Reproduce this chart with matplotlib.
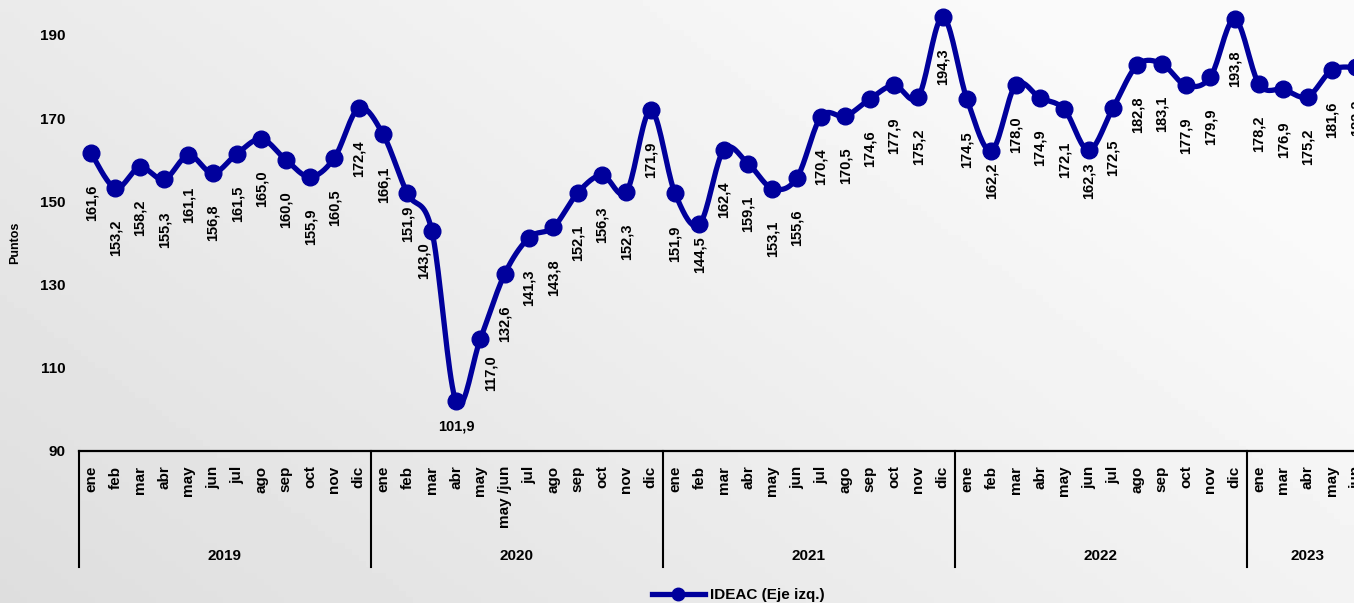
import numpy as np
import matplotlib
matplotlib.use("Agg")
import matplotlib.pyplot as plt
from matplotlib.lines import Line2D
from matplotlib.transforms import blended_transform_factory

plt.rcParams['font.family'] = ['Liberation Sans', 'DejaVu Sans']
plt.rcParams['font.weight'] = 'bold'

# datos
meses = ['ene', 'feb', 'mar', 'abr', 'may', 'jun', 'jul', 'ago', 'sep', 'oct', 'nov', 'dic']
meses_2020 = ['ene', 'feb', 'mar', 'abr', 'may', 'may /jun', 'jul', 'ago', 'sep', 'oct', 'nov', 'dic']
meses_2023 = ['ene', 'mar', 'abr', 'may', 'jun']
etiquetas_mes = meses + meses_2020 + meses + meses + meses_2023

anios = ['2019', '2020', '2021', '2022', '2023']
meses_por_anio = [12, 12, 12, 12, 5]

ideac_2019 = [161.6, 153.2, 158.2, 155.3, 161.1, 156.8, 161.5, 165.0, 160.0, 155.9, 160.5, 172.4]
ideac_2020 = [166.1, 151.9, 143.0, 101.9, 117.0, 132.6, 141.3, 143.8, 152.1, 156.3, 152.3, 171.9]
ideac_2021 = [151.9, 144.5, 162.4, 159.1, 153.1, 155.6, 170.4, 170.5, 174.6, 177.9, 175.2, 194.3]
ideac_2022 = [174.5, 162.2, 178.0, 174.9, 172.1, 162.3, 172.5, 182.8, 183.1, 177.9, 179.9, 193.8]
ideac_2023 = [178.2, 176.9, 175.2, 181.6, 182.2]
ideac = np.array(ideac_2019 + ideac_2020 + ideac_2021 + ideac_2022 + ideac_2023)

azul = '#00009C'


def curva_suave(x, y, n=20):
    # bezier tipo Excel (catmull-rom)
    xs, ys = [], []
    px = np.concatenate([[x[0]], x, [x[-1]]])
    py = np.concatenate([[y[0]], y, [y[-1]]])
    t = np.linspace(0, 1, n)
    for i in range(1, len(px) - 2):
        p0 = np.array([px[i], py[i]])
        p3 = np.array([px[i + 1], py[i + 1]])
        c1 = p0 + (p3 - np.array([px[i - 1], py[i - 1]])) / 6
        c2 = p3 - (np.array([px[i + 2], py[i + 2]]) - p0) / 6
        b = ((1 - t) ** 3)[:, None] * p0 + (3 * (1 - t) ** 2 * t)[:, None] * c1 \
            + (3 * (1 - t) * t ** 2)[:, None] * c2 + (t ** 3)[:, None] * p3
        xs.extend(b[:, 0])
        ys.extend(b[:, 1])
    return np.array(xs), np.array(ys)


fig = plt.figure(figsize=(13.54, 6.03), dpi=100)

# fondo degradado claro
bg = fig.add_axes([0, 0, 1, 1], zorder=-10)
gx, gy = np.meshgrid(np.linspace(0, 1, 200), np.linspace(0, 1, 100))
grad = np.clip(0.75 * gx + 0.45 * gy, 0, 1)
bg.imshow(grad, cmap='gray', vmin=-8.0, vmax=1.2, aspect='auto', origin='lower',
          extent=[0, 1, 0, 1])
bg.axis('off')

ax = fig.add_axes([79 / 1354, 152 / 603, 1289.5 / 1354, 457.6 / 603])
ax.patch.set_alpha(0)
x = np.arange(len(ideac))
ax.set_xlim(-0.5, len(ideac) - 0.5)
ax.set_ylim(90, 200)

xs, ys = curva_suave(x, ideac)
ax.plot(xs, ys, color=azul, lw=3.8, solid_capstyle='round', zorder=3)
ax.plot(x, ideac, 'o', color=azul, ms=12, zorder=4)

# etiquetas de datos
cercanas = {13, 14, 25, 37, 41}
for i, v in enumerate(ideac):
    txt = f'{v:.1f}'.replace('.', ',')
    if i == 15:
        ax.annotate(txt, (i, v), xytext=(0, -18), textcoords='offset points',
                    ha='center', va='center', fontsize=10.5, fontweight='bold')
        continue
    dx, dy = 0, -36
    if i in cercanas:
        dy = -22
    if i == 14:
        dx = -6
    if i == 16:
        dx, dy = 7, -24.5
    ax.annotate(txt, (i, v), xytext=(dx, dy), textcoords='offset points',
                ha='center', va='center', rotation=90, fontsize=10.5, fontweight='bold')

ax.set_yticks([90, 110, 130, 150, 170, 190])
ax.set_yticklabels(['90', '110', '130', '150', '170', '190'], fontsize=11, fontweight='bold')
ax.set_xticks(x)
ax.set_xticklabels(etiquetas_mes, rotation=90, fontsize=11, fontweight='bold', va='top')
ax.tick_params(axis='y', length=0, pad=9.5)
ax.tick_params(axis='x', length=0, pad=10.5)

for s in ['top', 'right', 'left']:
    ax.spines[s].set_visible(False)
ax.spines['bottom'].set_linewidth(1.6)

# separadores y anios
trans = blended_transform_factory(ax.transData, ax.transAxes)
inicio = -0.5
for anio, n in zip(anios, meses_por_anio):
    ax.plot([inicio, inicio], [0, -0.2535], transform=trans, color='black', lw=1.5,
            clip_on=False)
    ax.text(inicio + n / 2, -0.2295, anio, transform=trans, ha='center', va='center',
            fontsize=11, fontweight='bold')
    inicio += n

fig.text(15 / 1354, 360 / 603, 'Puntos', rotation=90, ha='center', va='center',
         fontsize=9, fontweight='bold')

handle = Line2D([], [], color=azul, lw=3.8, marker='o', ms=9)
fig.legend([handle], ['IDEAC (Eje izq.)'], loc='center', bbox_to_anchor=(738 / 1354, 8 / 603),
           frameon=False, prop={'size': 11, 'weight': 'bold'}, handlelength=3.5,
           handletextpad=0.3)

fig.savefig('out.png', dpi=100)
